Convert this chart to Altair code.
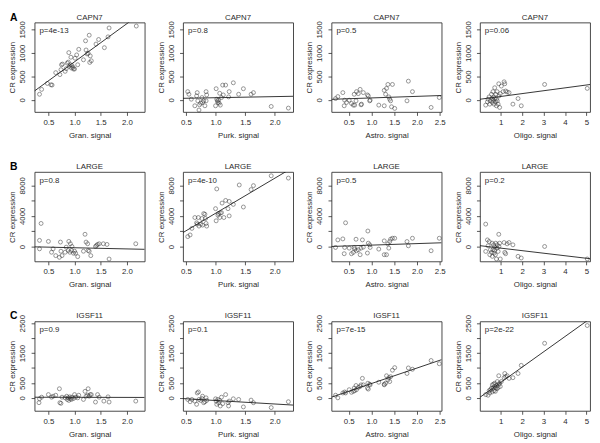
import altair as alt
import pandas as pd

FONT = "Liberation Sans"

genes = ["CAPN7", "LARGE", "IGSF11"]
row_letters = ["A", "B", "C"]
x_titles = ["Gran. signal", "Purk. signal", "Astro. signal", "Oligo. signal"]
y_title = "CR expression"
p_values = [["p=4e-13", "p=0.8", "p=0.5", "p=0.06"],
            ["p=0.8", "p=4e-10", "p=0.5", "p=0.2"],
            ["p=0.9", "p=0.1", "p=7e-15", "p=2e-22"]]

x_domains = [[0.235, 2.34], [0.45, 2.31], [0.12, 2.54], [0.03, 5.17]]
x_ticks = [[0.5, 1.0, 1.5, 2.0], [0.5, 1.0, 1.5, 2.0], [0.5, 1.0, 1.5, 2.0, 2.5], [1, 2, 3, 4, 5]]
y_domains = [[-257, 1646], [-1950, 9750], [-435, 2560]]
y_ticks = [[0, 500, 1000, 1500], [0, 2000, 4000, 6000, 8000], [0, 500, 1000, 1500, 2000, 2500]]
y_unlabeled = [[], [2000, 6000], [1000, 2000]]

# ---- Row A: CAPN7 ----
A1_x = [0.33,0.37,0.48,0.55,0.57,0.64,0.72,0.74,0.75,0.77,0.82,0.84,0.86,0.88,0.89,0.90,0.92,0.94,0.95,0.97,0.98,1.00,0.93,1.01,1.04,1.06,1.08,1.17,1.21,1.22,1.24,1.26,1.28,1.30,1.29,1.32,1.41,1.46,1.57,1.64,1.66,2.18]
A1_y = [119,223,349,320,315,579,537,642,747,761,607,663,782,803,1005,712,747,677,733,691,656,656,907,886,956,747,1075,852,1256,1061,977,991,1375,935,796,831,1187,1284,1110,1340,1529,1570]
A2_x = [0.53,0.55,0.59,0.65,0.68,0.69,0.70,0.73,0.72,0.75,0.77,0.78,0.80,0.82,0.84,0.85,0.84,1.00,1.01,1.02,1.03,1.04,1.05,1.06,1.07,1.08,1.10,1.12,1.13,1.17,1.22,1.23,1.30,1.39,1.47,1.60,1.64,1.94,2.23]
A2_y = [175,119,14,-126,84,154,-21,-105,-216,-70,49,-56,-21,-126,175,105,-21,-126,237,14,-21,-56,-7,-70,140,-112,49,314,105,314,63,175,363,119,237,119,154,-140,-175]
A3_x = [0.21,0.26,0.37,0.40,0.41,0.45,0.51,0.56,0.60,0.62,0.63,0.66,0.67,0.71,0.75,0.77,0.78,0.82,0.91,0.93,0.96,0.97,1.16,1.28,1.28,1.31,1.33,1.36,1.38,1.40,1.42,1.46,1.44,1.51,1.78,1.81,1.90,2.31,2.49]
A3_y = [28,70,154,-126,-7,-56,-7,-77,-112,119,-112,-21,175,133,223,-105,-91,154,105,84,-21,-7,-112,-126,202,119,244,328,63,14,-21,328,-147,-182,-21,398,175,-161,49]
A4_x = [0.30,0.38,0.41,0.46,0.49,0.52,0.57,0.60,0.61,0.64,0.64,0.67,0.69,0.72,0.72,0.75,0.77,0.80,0.80,0.83,0.84,0.88,0.91,0.92,0.95,0.98,1.03,1.11,1.16,1.19,1.23,1.30,1.39,1.57,1.81,1.96,3.05,5.04]
A4_y = [-112,-42,14,63,-91,-21,119,28,-56,175,-7,63,-91,258,28,-42,119,-126,14,175,-21,-91,342,84,-161,133,293,175,384,342,188,168,154,-91,28,-126,328,244]

# ---- Row B: LARGE ----
B1_x = [0.33,0.33,0.36,0.50,0.56,0.59,0.64,0.71,0.73,0.74,0.76,0.82,0.84,0.88,0.89,0.91,0.92,0.94,0.95,0.98,1.00,1.02,1.06,1.17,1.20,1.22,1.25,1.26,1.28,1.31,1.40,1.42,1.44,1.47,1.55,1.62,1.66,2.17]
B1_y = [797,-310,3012,664,-753,-310,-1196,-1418,576,-620,-1196,-753,-89,-532,664,-753,354,-532,0,-886,-620,-886,-1329,-620,1595,576,354,-532,-620,-1196,0,133,266,354,354,266,-1639,354]
B2_x = [0.53,0.57,0.60,0.65,0.68,0.69,0.71,0.72,0.75,0.77,0.78,0.80,0.82,0.83,0.84,0.85,1.00,1.01,1.02,1.04,1.05,1.07,1.08,1.10,1.11,1.14,1.17,1.21,1.23,1.23,1.30,1.40,1.47,1.60,1.64,1.94,2.23]
B2_y = [1290,1505,2365,3784,3096,2924,3784,2666,2924,3655,2795,4300,4214,3655,3010,2666,4945,3354,7525,4085,4300,3784,4386,4429,5676,3784,6020,4945,3999,5891,5504,8041,5160,7439,7955,9245,8944]
B3_x = [0.21,0.26,0.37,0.40,0.41,0.43,0.51,0.56,0.60,0.62,0.63,0.66,0.67,0.71,0.75,0.77,0.80,0.82,0.91,0.92,0.93,0.96,0.97,1.16,1.28,1.28,1.33,1.36,1.38,1.40,1.42,1.46,1.51,1.78,1.81,1.90,2.31,2.49]
B3_y = [-129,860,989,-946,-129,3096,-215,-946,-774,-129,-344,946,-559,-430,-1075,-215,860,-86,-860,2021,430,215,-129,-344,731,-1075,-1075,344,-215,645,946,1075,1075,645,86,1075,-559,1075]
B4_x = [0.30,0.38,0.30,0.41,0.46,0.49,0.52,0.57,0.60,0.61,0.64,0.67,0.69,0.72,0.72,0.75,0.77,0.80,0.83,0.84,0.88,0.91,0.92,0.95,0.98,1.16,1.19,1.23,1.30,1.39,1.57,1.81,1.96,3.05,5.04]
B4_y = [2924,860,-645,86,645,-1075,-430,-774,430,-1290,-430,215,-860,-86,-516,-1075,430,-1634,-215,215,-645,1591,0,430,-1634,516,-774,-946,344,516,215,-1290,-1505,0,-1634]

# ---- Row C: IGSF11 ----
C1_x = [0.32,0.33,0.37,0.50,0.56,0.59,0.64,0.71,0.72,0.74,0.76,0.82,0.85,0.86,0.88,0.89,0.91,0.92,0.94,0.95,0.98,1.00,1.02,1.06,1.08,1.17,1.20,1.22,1.25,1.26,1.28,1.30,1.32,1.40,1.44,1.47,1.56,1.64,1.66,2.17]
C1_y = [-163,-33,22,109,22,54,87,304,-163,-185,22,0,54,-54,0,-87,33,-33,-54,22,-22,109,22,0,87,-54,217,54,87,304,54,109,109,-141,109,22,-109,33,-141,-109]
C2_x = [0.53,0.57,0.60,0.65,0.68,0.69,0.71,0.72,0.75,0.77,0.78,0.80,0.82,0.84,0.85,1.00,1.01,1.02,1.04,1.05,1.07,1.08,1.10,1.12,1.17,1.21,1.22,1.23,1.30,1.39,1.47,1.60,1.64,1.94,2.23]
C2_y = [-54,-130,-54,-109,-217,163,196,-54,-87,-22,54,-163,-130,0,-87,-33,-109,-217,-54,-163,-87,-272,22,-196,109,-163,-272,-109,-33,-54,-304,-76,-163,-326,-130]
C3_x = [0.21,0.26,0.37,0.41,0.43,0.51,0.56,0.60,0.62,0.63,0.66,0.67,0.71,0.75,0.77,0.80,0.82,0.91,0.92,0.93,0.96,0.97,1.16,1.28,1.28,1.31,1.33,1.36,1.38,1.40,1.42,1.46,1.51,1.78,1.81,1.90,2.31,2.49]
C3_y = [87,0,163,196,163,272,185,217,326,239,413,272,348,380,435,652,435,326,489,293,457,435,522,457,435,489,739,598,674,544,707,924,1011,815,1000,957,1250,1141]
C4_x = [0.30,0.41,0.46,0.49,0.52,0.57,0.60,0.61,0.64,0.67,0.69,0.72,0.72,0.75,0.77,0.80,0.83,0.84,0.88,0.91,0.92,0.95,0.98,1.03,1.16,1.19,1.23,1.30,1.39,1.57,1.81,1.96,3.05,5.04]
C4_y = [109,87,239,163,272,326,196,435,326,457,239,380,489,217,326,413,304,544,348,739,457,489,380,544,674,815,707,739,652,674,815,1087,1826,2420]

panel_data = [
    [(A1_x, A1_y), (A2_x, A2_y), (A3_x, A3_y), (A4_x, A4_y)],
    [(B1_x, B1_y), (B2_x, B2_y), (B3_x, B3_y), (B4_x, B4_y)],
    [(C1_x, C1_y), (C2_x, C2_y), (C3_x, C3_y), (C4_x, C4_y)],
]

W, H = 112, 91
INK = "#2b2b2b"
LINE = "#1e1e1e"


def label_chart(text, **mark_kw):
    return alt.Chart(pd.DataFrame({"t": [text]})).mark_text(font=FONT, **mark_kw)


def make_panel(r, c):
    xs, ys = panel_data[r][c]
    df = pd.DataFrame({"x": xs, "y": ys})
    xd = x_domains[c]
    yd = y_domains[r]
    hidden = y_unlabeled[r]
    if hidden:
        expr = "(" + " || ".join(f"datum.value == {v}" for v in hidden) + ") ? '' : datum.label"
    else:
        expr = "datum.label"
    xenc = alt.X("x:Q",
                 scale=alt.Scale(domain=xd, nice=False, zero=False),
                 axis=alt.Axis(values=x_ticks[c], format=".1f" if c < 3 else "d",
                               title=x_titles[c], labelOverlap=False, labelFlush=False))
    yenc = alt.Y("y:Q",
                 scale=alt.Scale(domain=yd, nice=False, zero=False),
                 axis=alt.Axis(values=y_ticks[r], format="d", title=y_title,
                               labelAngle=270, labelAlign="center",
                               labelBaseline="alphabetic", labelExpr=expr,
                               labelOverlap=False, labelFlush=False))
    base = alt.Chart(df)
    pts = base.mark_point(shape="circle", filled=False, size=16,
                          color=INK, strokeWidth=0.7).encode(x=xenc, y=yenc)
    line = base.transform_regression("x", "y", extent=xd).mark_line(
        color=LINE, strokeWidth=0.9, clip=True).encode(x=xenc, y=yenc)
    ptxt = label_chart(p_values[r][c], align="left", baseline="alphabetic",
                       fontSize=8, color=INK).encode(
        text="t:N", x=alt.value(5), y=alt.value(11))
    gtxt = label_chart(genes[r], align="center", baseline="alphabetic",
                       fontSize=8, fontWeight="normal", color=INK).encode(
        text="t:N", x=alt.value(W / 2), y=alt.value(-3))
    layers = [pts, line, ptxt, gtxt]
    if c == 0:
        letter = label_chart(row_letters[r], align="left", baseline="alphabetic",
                             fontSize=10.5, fontWeight="bold", color="black").encode(
            text="t:N", x=alt.value(-25), y=alt.value(-2))
        layers.append(letter)
    return alt.layer(*layers).properties(width=W, height=H)


panels = [make_panel(r, c) for r in range(3) for c in range(4)]

chart = alt.concat(*panels, columns=4, spacing={"row": 61, "column": 39},
                   bounds="flush").resolve_scale(
    x="independent", y="independent"
).properties(padding=0).configure_view(
    stroke="#333333", strokeWidth=0.9
).configure_axis(
    domain=False, grid=False, ticks=True, tickSize=3.5, tickWidth=0.8,
    tickColor=INK, labelFont=FONT, labelFontSize=8, labelColor=INK,
    titleFont=FONT, titleFontSize=8, titleFontWeight="normal", titleColor=INK,
    labelOverlap=False
).configure_axisX(
    labelPadding=3, titlePadding=5.5
).configure_axisY(
    labelPadding=6.5, titlePadding=2
)

chart.save("out.html", embed_options={"renderer": "svg", "actions": False})
